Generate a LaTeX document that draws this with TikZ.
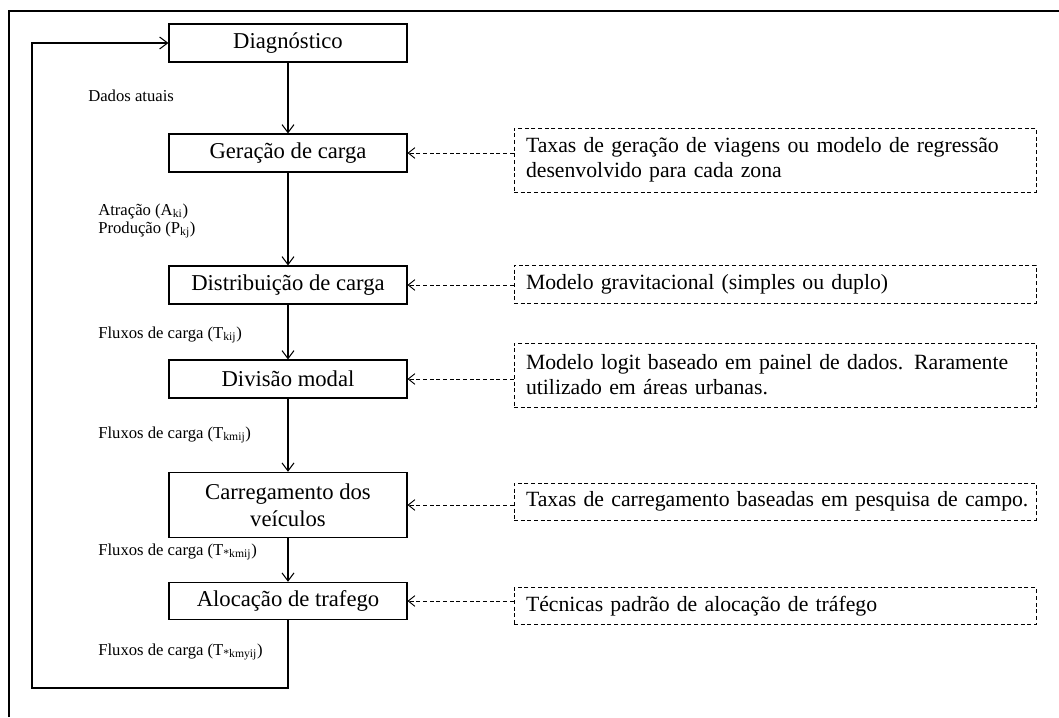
\documentclass[tikz,border=0pt]{standalone}
\usepackage{fontspec}
\setmainfont{Liberation Serif}
\newfontfamily\condfont[WordSpace=0.8]{Liberation Serif}
\newcommand{\dboxfont}{\condfont\fontsize{16.3}{18.75}\selectfont\hyphenpenalty=10000\relax}
\usetikzlibrary{arrows.meta}
\tikzset{
  mainbox/.style={draw, line width=0.8pt, minimum width=178.5pt, inner sep=0pt, align=center, font=\fontsize{17}{20.5}\selectfont},
  dbox/.style={draw, dashed, dash pattern=on 3pt off 2pt, line width=0.7pt, minimum width=391.5pt, text width=373.5pt, inner xsep=9pt, inner ysep=0pt, align=left, font=\dboxfont},
  lbl/.style={anchor=west, inner sep=0pt, align=left, font=\fontsize{12.5}{13.5}\selectfont},
  arr/.style={line width=0.8pt, -{Straight Barb[length=6pt,width=9pt]}},
  darr/.style={line width=0.7pt, dashed, dash pattern=on 3pt off 2pt, -{Straight Barb[length=5pt,width=8pt]}},
}
\begin{document}
\begin{tikzpicture}[x=0.75pt,y=-0.75pt]
\useasboundingbox (0,0) rectangle (1059,717);
% outer frame (partially visible)
\draw[line width=1.6pt] (9,717) -- (9,11) -- (1059,11);

% main boxes
\node[mainbox, minimum height=28.5pt] (diag) at (288,43) {Diagnóstico};
\node[mainbox, minimum height=28.5pt] (ger) at (288,153) {Geração de carga};
\node[mainbox, minimum height=28.5pt] (dist) at (288,285) {Distribuição de carga};
\node[mainbox, minimum height=28.5pt] (div) at (288,379) {Divisão modal};
\node[mainbox, minimum height=49pt] (carr) at (288,505) {Carregamento dos\\veículos};
\node[mainbox, minimum height=28pt] (aloc) at (288,601) {Alocação de trafego};

% dashed boxes
\node[dbox, minimum height=48pt] (d1) at (775,160) {Taxas de geração de viagens ou modelo de regressão\\desenvolvido para cada zona};
\node[dbox, minimum height=28.5pt] (d2) at (775,284) {Modelo gravitacional (simples ou duplo)};
\node[dbox, minimum height=48pt] (d3) at (775,375) {Modelo logit baseado em painel de dados. Raramente\\utilizado em áreas urbanas.};
\node[dbox, minimum height=27.75pt] (d4) at (775,501.5) {\mbox{Taxas de carregamento baseadas em pesquisa de campo.}};
\node[dbox, minimum height=27.75pt] (d5) at (775,606) {Técnicas padrão de alocação de tráfego};

% labels
\node[lbl] (l0) at (88,96) {Dados atuais};
\node[lbl] (l1) at (98,221) {Atração (A\textsubscript{ki})\\Produção (P\textsubscript{kj})};
\node[lbl] (l2) at (98,335) {Fluxos de carga (T\textsubscript{kij})};
\node[lbl] (l3) at (98,435) {Fluxos de carga (T\textsubscript{kmij})};
\node[lbl] (l4) at (98,552) {Fluxos de carga (T\textsubscript{*kmij})};
\node[lbl] (l5) at (98,652) {Fluxos de carga (T\textsubscript{*kmyij})};

% main flow arrows
\draw[arr] (diag) -- (ger);
\draw[arr] (ger) -- (dist);
\draw[arr] (dist) -- (div);
\draw[arr] (div) -- (carr);
\draw[arr] (carr) -- (aloc);
\coordinate (lb) at (32,688);
\draw[arr] (aloc.south) |- (lb) |- (diag.west);

% dashed arrows
\draw[darr] (d1.west |- ger.east) -- (ger.east);
\draw[darr] (d2.west |- dist.east) -- (dist.east);
\draw[darr] (d3.west |- div.east) -- (div.east);
\draw[darr] (d4.west |- carr.east) -- (carr.east);
\draw[darr] (d5.west |- aloc.east) -- (aloc.east);
\end{tikzpicture}
\end{document}
